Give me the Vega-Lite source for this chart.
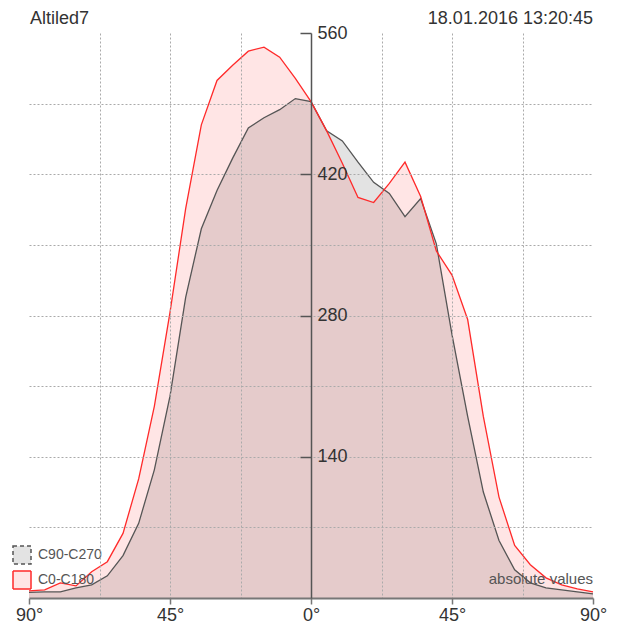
{
  "$schema": "https://vega.github.io/schema/vega-lite/v6.json",
  "width": 564,
  "height": 565,
  "autosize": {"type": "none"},
  "padding": {"left": 29, "top": 33, "right": 33, "bottom": 31},
  "background": "white",
  "config": {"view": {"stroke": null}, "font": "Liberation Sans"},
  "data": {"values": [
    {"a": -90, "c0": 7, "c90": 5.5},
    {"a": -85, "c0": 8, "c90": 6},
    {"a": -80, "c0": 15, "c90": 6},
    {"a": -75, "c0": 12, "c90": 10},
    {"a": -70, "c0": 26, "c90": 13},
    {"a": -65, "c0": 36, "c90": 22},
    {"a": -60, "c0": 64, "c90": 42},
    {"a": -55, "c0": 118, "c90": 74},
    {"a": -50, "c0": 190, "c90": 127},
    {"a": -45, "c0": 283, "c90": 200},
    {"a": -40, "c0": 386, "c90": 298},
    {"a": -35, "c0": 469, "c90": 366},
    {"a": -30, "c0": 513, "c90": 404},
    {"a": -25, "c0": 528, "c90": 436},
    {"a": -20, "c0": 542, "c90": 466},
    {"a": -15, "c0": 546, "c90": 476},
    {"a": -10, "c0": 536, "c90": 484},
    {"a": -5, "c0": 515, "c90": 495},
    {"a": 0, "c0": 492, "c90": 492},
    {"a": 5, "c0": 463, "c90": 463},
    {"a": 10, "c0": 431, "c90": 453},
    {"a": 15, "c0": 397, "c90": 432},
    {"a": 20, "c0": 392, "c90": 412},
    {"a": 25, "c0": 411, "c90": 401},
    {"a": 30, "c0": 432, "c90": 378},
    {"a": 35, "c0": 398, "c90": 396},
    {"a": 40, "c0": 344, "c90": 351},
    {"a": 45, "c0": 320, "c90": 261},
    {"a": 50, "c0": 276, "c90": 180},
    {"a": 55, "c0": 180, "c90": 105},
    {"a": 60, "c0": 100, "c90": 57},
    {"a": 65, "c0": 52, "c90": 28},
    {"a": 70, "c0": 33, "c90": 15},
    {"a": 75, "c0": 20, "c90": 10},
    {"a": 80, "c0": 13, "c90": 8},
    {"a": 85, "c0": 9, "c90": 6},
    {"a": 90, "c0": 6, "c90": 4}
  ]},
  "resolve": {"axis": {"x": "independent", "y": "independent"}},
  "layer": [
    {
      "mark": {"type": "area", "clip": false},
      "encoding": {
        "x": {"field": "a", "type": "quantitative",
          "scale": {"domain": [-90, 90], "nice": false, "zero": false},
          "axis": {
            "values": [-90, -67.5, -45, -22.5, 0, 22.5, 45, 67.5, 90],
            "title": null, "grid": true, "gridDash": [2, 2], "gridColor": "#aaa", "gridWidth": 1,
            "gridOpacity": {"condition": {"test": "abs(datum.value) == 90 || datum.value == 0", "value": 0}, "value": 1},
            "tickOpacity": {"condition": {"test": "datum.value % 45 == 0", "value": 1}, "value": 0},
            "labelExpr": "datum.value % 45 == 0 ? abs(datum.value) + '°' : ''",
            "domainColor": "#777", "domainWidth": 2, "tickColor": "#777", "tickWidth": 1.5, "tickSize": 6,
            "labelFontSize": 18, "labelColor": "#333", "labelFont": "Liberation Sans", "labelPadding": 2,
            "labelFlush": false, "labelOverlap": false, "labelBound": false, "zindex": 1
          }},
        "y": {"field": "c90", "type": "quantitative",
          "scale": {"domain": [0, 560], "nice": false, "zero": true},
          "axis": {
            "values": [0, 70, 140, 210, 280, 350, 420, 490, 560],
            "title": null, "grid": true, "gridDash": [2, 2], "gridColor": "#aaa", "gridWidth": 1,
            "gridOpacity": {"condition": {"test": "datum.value == 0 || datum.value == 560", "value": 0}, "value": 1},
            "domain": false, "ticks": false, "labels": false, "zindex": 1
          }},
        "fill": {"datum": "C90-C270", "type": "nominal",
          "scale": {"domain": ["C90-C270", "C0-C180"], "range": ["rgba(0,0,0,0.11)", "rgba(255,0,0,0.1)"]},
          "legend": {
            "title": null, "orient": "none", "legendX": -17, "legendY": 512, "padding": 0,
            "symbolType": "square", "symbolSize": 324, "symbolStrokeWidth": 1.5, "symbolOpacity": 1,
            "rowPadding": 1, "labelOffset": 6, "labelFontSize": 14, "labelColor": "#555", "labelFont": "Liberation Sans",
            "encode": {"symbols": {"update": {
              "stroke": {"signal": "datum.value === 'C90-C270' ? '#555' : '#ff2a2a'"},
              "strokeDash": {"signal": "datum.value === 'C90-C270' ? [4, 3] : [1, 0]"}
            }}}
          }}
      }
    },
    {
      "mark": {"type": "area", "clip": false},
      "encoding": {
        "x": {"field": "a", "type": "quantitative", "axis": null},
        "y": {"field": "c0", "type": "quantitative",
          "axis": {
            "orient": "left", "offset": -282, "values": [140, 280, 420, 560],
            "title": null, "grid": false,
            "domainColor": "#555", "domainWidth": 1.5, "tickColor": "#555", "tickWidth": 1.5, "tickSize": 11,
            "labelAlign": "left", "labelPadding": -17, "labelFontSize": 18, "labelColor": "#333", "labelFont": "Liberation Sans",
            "labelBound": false, "labelOverlap": false, "labelFlush": false, "zindex": 2
          }},
        "fill": {"datum": "C0-C180", "type": "nominal"}
      }
    },
    {
      "mark": {"type": "line", "color": "#555", "strokeWidth": 1.3, "clip": false},
      "encoding": {
        "x": {"field": "a", "type": "quantitative", "axis": null},
        "y": {"field": "c90", "type": "quantitative", "axis": null}
      }
    },
    {
      "mark": {"type": "line", "color": "#ff2a2a", "strokeWidth": 1.3, "clip": false},
      "encoding": {
        "x": {"field": "a", "type": "quantitative", "axis": null},
        "y": {"field": "c0", "type": "quantitative", "axis": null}
      }
    },
    {
      "data": {"values": [{"t": "absolute values", "a": 90, "v": 0}]},
      "mark": {"type": "text", "align": "right", "baseline": "alphabetic", "dy": -14, "fontSize": 15, "color": "#555", "font": "Liberation Sans"},
      "encoding": {
        "x": {"field": "a", "type": "quantitative", "axis": null},
        "y": {"field": "v", "type": "quantitative", "axis": null},
        "text": {"field": "t"}
      }
    },
    {
      "data": {"values": [{"t": "18.01.2016 13:20:45", "a": 90, "v": 560}]},
      "mark": {"type": "text", "align": "right", "baseline": "alphabetic", "dy": -9, "fontSize": 18, "color": "#333", "font": "Liberation Sans"},
      "encoding": {
        "x": {"field": "a", "type": "quantitative", "axis": null},
        "y": {"field": "v", "type": "quantitative", "axis": null},
        "text": {"field": "t"}
      }
    },
    {
      "data": {"values": [{"t": "Altiled7", "a": -90, "v": 560}]},
      "mark": {"type": "text", "align": "left", "baseline": "alphabetic", "dy": -9, "dx": 1, "fontSize": 18, "color": "#333", "font": "Liberation Sans"},
      "encoding": {
        "x": {"field": "a", "type": "quantitative", "axis": null},
        "y": {"field": "v", "type": "quantitative", "axis": null},
        "text": {"field": "t"}
      }
    }
  ]
}
